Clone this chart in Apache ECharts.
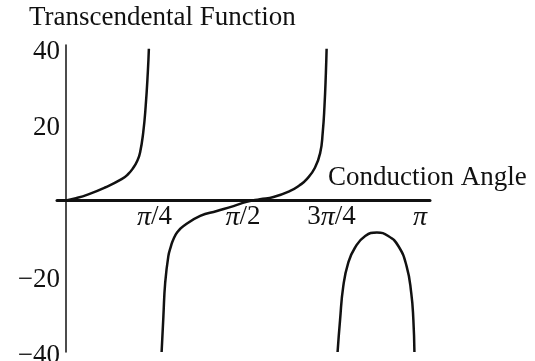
<!DOCTYPE html>
<html>
<head>
<meta charset="utf-8">
<style>
  html, body { margin: 0; padding: 0; background: #fff; }
  #chart { width: 535px; height: 361px; }
</style>
<script src="https://cdn.jsdelivr.net/npm/echarts@6/dist/echarts.min.js"></script>
</head>
<body>
<div id="chart"></div>
<script>
// Angles are in units of π; function values are dimensionless.
const branchA = [
  [0.000, 0.0], [0.025, 0.5], [0.063, 1.6], [0.110, 3.4], [0.157, 5.6], [0.175, 6.9],
  [0.190, 8.6], [0.201, 10.4], [0.209, 12.6], [0.218, 17.9], [0.225, 24.9],
  [0.231, 33.8], [0.234, 40.0]
];
const branchB = [
  [0.270, -40.0], [0.275, -30.6], [0.280, -21.8], [0.289, -14.7], [0.296, -12.2],
  [0.303, -10.3], [0.315, -8.3], [0.331, -6.8], [0.379, -4.1], [0.426, -2.8],
  [0.473, -1.5], [0.510, -0.4], [0.548, 0.3], [0.586, 0.9], [0.633, 2.5],
  [0.660, 4.0], [0.680, 5.6], [0.703, 8.6], [0.718, 12.6], [0.725, 17.9],
  [0.730, 24.9], [0.734, 33.8], [0.736, 40.0]
];
const branchC = [
  [0.767, -40.0], [0.774, -31.5], [0.783, -22.7], [0.797, -16.5], [0.816, -12.5],
  [0.845, -9.4], [0.878, -8.5], [0.910, -9.4], [0.939, -12.1], [0.962, -17.4],
  [0.975, -24.4], [0.981, -31.5], [0.984, -40.0]
];

const xTickValues = [0.25, 0.5, 0.75, 1];
const xTickLabels = ['{p|π}/4', '{p|π}/2', '3{p|π}/4', '{p|π}'];
const yTickValues = [-40, -20, 20, 40];
const yTickLabels = ['−40', '−20', '20', '40'];

const xTitle = 'Conduction Angle';
const yTitle = 'Transcendental Function';

const FONT = '"Liberation Serif", "DejaVu Serif", serif';
const INK = '#111';

// Plot frame and axis ranges
const W = 535, H = 361;
const G = { left: 57, right: 105, top: 45, bottom: 9 };
const X_MIN = -0.0255, X_MAX = 1.028;
const Y_MIN = -40, Y_MAX = 41;

// Both axes cross at the origin; shift them there from the grid edges.
const plotW = W - G.left - G.right;
const plotH = H - G.top - G.bottom;
const xAxisShift = plotH * (0 - Y_MIN) / (Y_MAX - Y_MIN);
const yAxisShift = plotW * (0 - X_MIN) / (X_MAX - X_MIN);

const chart = echarts.init(document.getElementById('chart'), null, { renderer: 'canvas' });

function branch(data) {
  return {
    type: 'line',
    data: data,
    smooth: 0.5,
    symbol: 'none',
    lineStyle: { color: INK, width: 2.5 },
    silent: true,
    animation: false
  };
}

chart.setOption({
  backgroundColor: '#fff',
  animation: false,
  title: [
    { text: yTitle, left: 29, top: 4, padding: 0,
      textStyle: { fontFamily: FONT, fontSize: 27, fontWeight: 'normal', color: INK } },
    { text: xTitle, left: 328, top: 164, padding: 0,
      textStyle: { fontFamily: FONT, fontSize: 27, fontWeight: 'normal', color: INK } }
  ],
  grid: Object.assign({ containLabel: false, outerBoundsMode: 'none' }, G),
  xAxis: {
    type: 'value',
    min: X_MIN,
    max: X_MAX,
    offset: -xAxisShift,
    axisLine: { show: true, onZero: false, lineStyle: { color: INK, width: 3 } },
    axisTick: { show: false },
    splitLine: { show: false },
    axisLabel: {
      customValues: xTickValues,
      margin: 3,
      fontFamily: FONT,
      fontSize: 27,
      color: INK,
      formatter: function (v) {
        const i = xTickValues.findIndex(t => Math.abs(t - v) < 1e-6);
        return i >= 0 ? xTickLabels[i] : '';
      },
      rich: { p: { fontFamily: FONT, fontSize: 28, fontStyle: 'italic', color: INK } }
    }
  },
  yAxis: {
    type: 'value',
    min: Y_MIN,
    max: Y_MAX,
    offset: -yAxisShift,
    axisLine: { show: true, onZero: false, lineStyle: { color: INK, width: 1.5 } },
    axisTick: { show: false },
    splitLine: { show: false },
    axisLabel: {
      customValues: yTickValues,
      margin: 6,
      color: INK,
      formatter: function (v) {
        const i = yTickValues.indexOf(v);
        return i >= 0 ? '{v|' + yTickLabels[i] + '}' : '';
      },
      rich: {
        v: { fontFamily: FONT, fontSize: 27, color: INK, lineHeight: 34, verticalAlign: 'bottom' }
      }
    }
  },
  series: [branch(branchA), branch(branchB), branch(branchC)]
});
</script>
</body>
</html>
